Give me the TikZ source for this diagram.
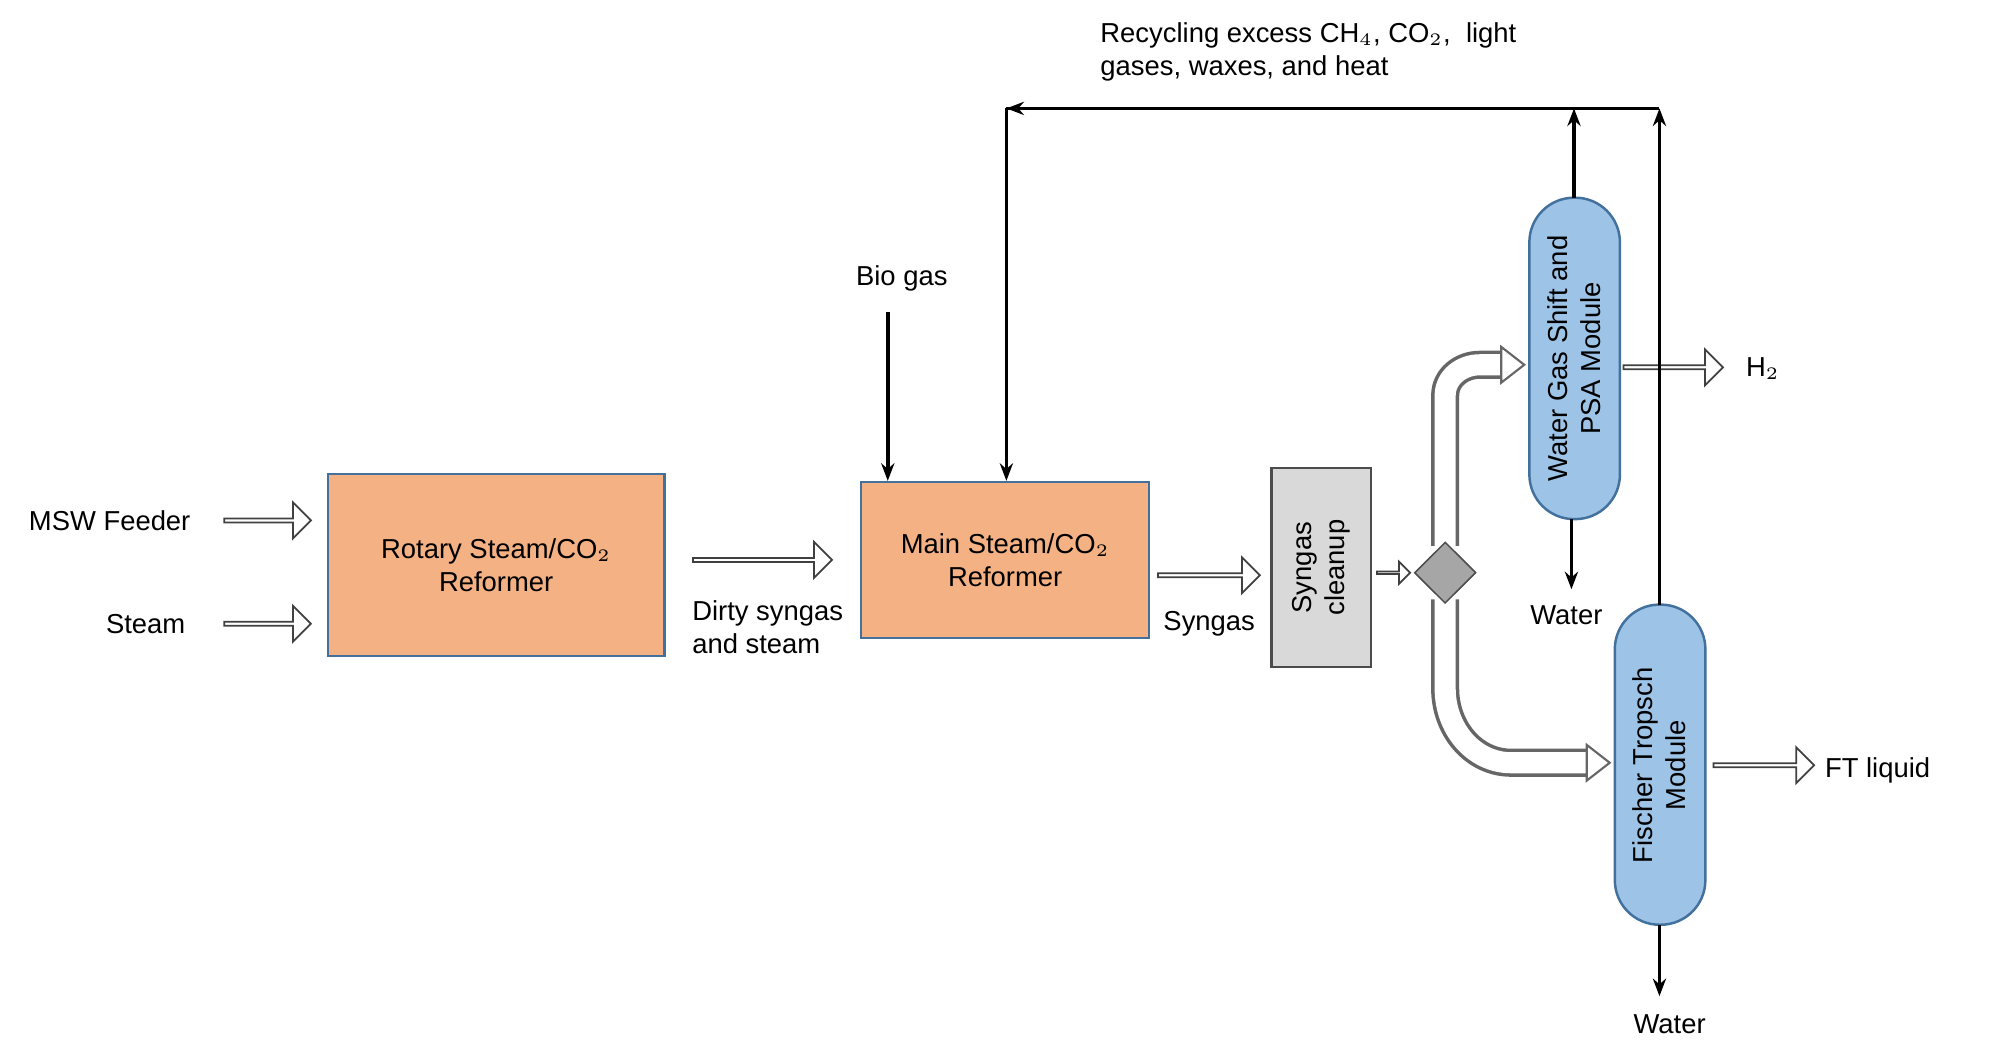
\documentclass[tikz,border=0pt]{standalone}
\usepackage{fontspec}
\setmainfont{Liberation Sans}
\usetikzlibrary{shapes.arrows,shapes.geometric,shapes.misc,arrows.meta}
\definecolor{org}{HTML}{F4B183}
\definecolor{obd}{HTML}{41719C}
\definecolor{blu}{HTML}{9DC3E6}
\definecolor{gry}{HTML}{D9D9D9}
\begin{document}
\begin{tikzpicture}[x=0.01276cm,y=-0.01276cm,font=\fontsize{7.8}{9.4}\selectfont,
  harrow/.style={single arrow,draw=black!75,fill=white,minimum height=#1*0.01276cm,minimum width=0.36cm,single arrow head extend=0.07cm,inner sep=0pt,line width=0.5pt},
  box/.style={draw=obd,fill=org,line width=0.7pt,align=center},
  caps/.style={rounded rectangle,rounded rectangle left arc=concave, draw=obd,fill=blu,line width=0.7pt},
  blk/.style={-{Stealth[length=5pt]},line width=1pt}]
\useasboundingbox (0,0) rectangle (1568,833);
\node[box,minimum width=264*0.01276cm,minimum height=143*0.01276cm] (rot) at (389,443) {Rotary Steam/CO$_2$\\Reformer};
\node[box,minimum width=226*0.01276cm,minimum height=122*0.01276cm] (main) at (788,439) {Main Steam/CO$_2$\\Reformer};
\node[draw=black!70,fill=gry,line width=0.7pt,minimum width=156*0.01276cm,minimum height=78*0.01276cm,rotate=90,align=center] (clean) at (1036,445) {Syngas\\cleanup};
\node[diamond,draw=black!70,fill=black!35,minimum size=48*0.01276cm,inner sep=0pt] (dia) at (1133,449) {};
\draw[draw=obd,fill=blu,line width=0.7pt,rounded corners=35*0.01276cm] (1199,155) rectangle (1270,407);
\node[rotate=90,align=center] (wgs) at (1234,281) {Water Gas Shift and\\PSA Module};
\draw[draw=obd,fill=blu,line width=0.7pt,rounded corners=35*0.01276cm] (1266,474) rectangle (1337,725);
\node[rotate=90,align=center] (ft) at (1301,600) {Fischer Tropsch\\Module};
% hollow arrows
\node[harrow=68] (a1) at (209,408) {};
\node[harrow=68] (a2) at (209,489) {};
\node[harrow=109] (a3) at (597,439) {};
\node[harrow=80] (a4) at (947,451) {};
\node[harrow=26,minimum width=0.22cm] (a5) at (1092,449) {};
\node[harrow=78] (a6) at (1311,288) {};
\node[harrow=79] (a7) at (1382,600) {};
% pipes
\draw[line width=8pt,black!60] (1133,428) -- (1133,310) to[out=90,in=180] (1160,286) -- (1180,286);
\draw[line width=6pt,white] (1133,432) -- (1133,310) to[out=90,in=180] (1160,286) -- (1181,286);
\fill[white,draw=black!60,line width=0.6pt] (1177,272) -- (1195,286) -- (1177,300) -- cycle;
\draw[line width=8pt,black!60] (1133,470) -- (1133,540) to[out=-90,in=180] (1185,598) -- (1245,598);
\draw[line width=6pt,white] (1133,466) -- (1133,540) to[out=-90,in=180] (1185,598) -- (1246,598);
\fill[white,draw=black!60,line width=0.6pt] (1244,584) -- (1262,598) -- (1244,612) -- cycle;
\node[diamond,draw=black!70,fill=black!35,minimum size=48*0.01276cm,inner sep=0pt] at (1133,449) {};
% labels
\node[anchor=east] (l1) at (159,408) {MSW Feeder};
\node[anchor=east] (l2) at (155,489) {Steam};
\node[anchor=north west,align=left] (l3) at (533,461) {Dirty syngas\\and steam};
\node (l4) at (948,489) {Syngas};
\node (l5) at (707,218) {Bio gas};
\node (l6) at (1382,289) {H$_2$};
\node (l7) at (1472,604) {FT liquid};
\node (w1) at (1228,482) {Water};
\node (w2) at (1309,803) {Water};
\node[anchor=north west,align=left] (l8) at (853,8) {Recycling excess CH$_4$, CO$_2$,\ \ light\\gases, waxes, and heat};
% black arrows
\coordinate (bg) at (696,245);
\draw[blk] (bg) -- (696,377);
\coordinate (r1) at (1301,85);
\coordinate (r2) at (1234,85);
\coordinate (r3) at (789,85);
\draw[blk] (1301,474) -- (r1);
\draw[blk] (1234,155) -- (r2);
\draw[line width=1pt] (r1) -- (r3);
\draw[blk] (802,85) -- (r3);
\draw[blk] (r3) -- (789,377);
\draw[blk] (1232,407) -- (1232,462);
\draw[blk] (1301,725) -- (1301,781);
\end{tikzpicture}
\end{document}
